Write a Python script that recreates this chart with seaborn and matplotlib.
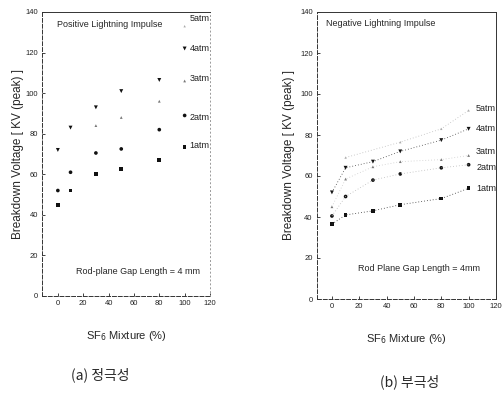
import numpy as np
import pandas as pd
import matplotlib
matplotlib.use("Agg")
import matplotlib.pyplot as plt
import seaborn as sns

sns.set_theme(style="white")
plt.rcParams['font.family'] = ['Liberation Sans Narrow', 'Liberation Sans', 'DejaVu Sans']

# ---- data ----
mixture = [0, 10, 30, 50, 80, 100]
atm_labels = ["1atm", "2atm", "3atm", "4atm", "5atm"]

pos_1atm = [45, 52, 60, 62.5, 67, 73.5]
pos_2atm = [52, 61, 70.5, 72.5, 82, 89]
pos_3atm = [np.nan, np.nan, 84, 88, 96, 106]
pos_4atm = [72, 83, 93, 101, 106.5, 122]
pos_5atm = [np.nan, np.nan, np.nan, np.nan, np.nan, 133]

neg_1atm = [36.5, 41, 43, 46, 49, 54]
neg_2atm = [40.5, 50, 58, 61, 64, 65.5]
neg_3atm = [45, 58.5, 64.5, 67, 68, 70]
neg_4atm = [52, 64, 67, 72, 77.5, 83]
neg_5atm = [np.nan, 69, np.nan, 76.5, 83, 92]

pos_label_y = [74, 88, 107, 122, 137]
neg_label_y = [54, 64, 72, 83, 93]

x_ticks = [0, 20, 40, 60, 80, 100, 120]
y_ticks = [0, 20, 40, 60, 80, 100, 120, 140]


def long(series):
    rows = []
    for lab, vals in zip(atm_labels, series):
        for m, v in zip(mixture, vals):
            rows.append({"mix": m, "v": v, "p": lab})
    return pd.DataFrame(rows)


pos_df = long([pos_1atm, pos_2atm, pos_3atm, pos_4atm, pos_5atm])
neg_df = long([neg_1atm, neg_2atm, neg_3atm, neg_4atm, neg_5atm])

markers = {"1atm": "s", "2atm": "o", "3atm": "^", "4atm": "v", "5atm": "^"}
colors = {"1atm": "#111111", "2atm": "#111111", "3atm": "#777777",
          "4atm": "#111111", "5atm": "#aaaaaa"}
sizes = {"1atm": 7, "2atm": 7, "3atm": 4, "4atm": 8, "5atm": 3}
line_colors = {"1atm": "#333333", "2atm": "#bbbbbb", "3atm": "#cccccc",
               "4atm": "#444444", "5atm": "#bbbbbb"}

fig = plt.figure(figsize=(5.03, 4.00), dpi=100)
axL = fig.add_axes([0.0835, 0.26, 0.334, 0.71])
axR = fig.add_axes([0.630, 0.2525, 0.356, 0.7175])

for ax, df, ly, xl in [(axL, pos_df, pos_label_y, (-12.5, 120)),
                        (axR, neg_df, neg_label_y, (-11, 120))]:
    for lab in atm_labels:
        sub = df[df.p == lab].dropna()
        if ax is axR:
            sns.lineplot(data=sub, x="mix", y="v", ax=ax, color=line_colors[lab],
                         linestyle=(0, (1, 2.5)), linewidth=0.6, legend=False)
        sns.scatterplot(data=sub, x="mix", y="v", ax=ax, marker=markers[lab],
                        color=colors[lab], s=sizes[lab], edgecolor="none",
                        legend=False)
    for lab, yv in zip(atm_labels, ly):
        ax.text(104 if ax is axL else 105.5, yv, lab, fontsize=6.5,
                va="center", ha="left", color="#222222")
    ax.set_xlim(*xl)
    ax.set_ylim(0, 140)
    ax.set_xticks(x_ticks)
    ax.set_yticks(y_ticks)
    ax.set_xticklabels([str(t) for t in x_ticks], fontsize=5.5)
    ax.set_yticklabels([str(t) for t in y_ticks], fontsize=5.5)
    ax.tick_params(axis="both", direction="in", length=2, width=0.6, pad=3,
                   colors="#222222")
    ax.tick_params(left=True, bottom=True)
    for s in ax.spines.values():
        s.set_linewidth(0.7)
        s.set_color("#333333")
    ax.spines["left"].set_linestyle((0, (4, 2)))
    ax.spines["bottom"].set_linestyle((0, (4, 2)))
    ax.set_xlabel("SF$_6$ Mixture (%)", fontsize=8, labelpad=16)

axL.set_ylabel("Breakdown Voltage [ KV (peak) ]", fontsize=8.5, labelpad=1)
axR.set_ylabel("Breakdown Voltage [ KV (peak) ]", fontsize=8.5, labelpad=4)

axL.spines["right"].set_linestyle((0, (1, 3)))
axL.spines["right"].set_color("#999999")

axL.text(0.09, 0.955, "Positive Lightning Impulse", transform=axL.transAxes,
         fontsize=6.5, va="center", ha="left")
axL.text(0.20, 0.085, "Rod-plane Gap Length = 4 mm", transform=axL.transAxes,
         fontsize=6.5, va="center", ha="left")
axR.text(0.05, 0.96, "Negative Lightning Impulse", transform=axR.transAxes,
         fontsize=6.5, va="center", ha="left")
axR.text(0.23, 0.105, "Rod Plane Gap Length = 4mm", transform=axR.transAxes,
         fontsize=6.5, va="center", ha="left")

fig.text(0.20, 0.0625, "(a) 정극성", fontsize=10, ha="center", va="center",
         family=['Noto Sans CJK KR', 'DejaVu Sans'])
fig.text(0.815, 0.045, "(b) 부극성", fontsize=10, ha="center", va="center",
         family=['Noto Sans CJK KR', 'DejaVu Sans'])

fig.savefig("out.png", dpi=100)
